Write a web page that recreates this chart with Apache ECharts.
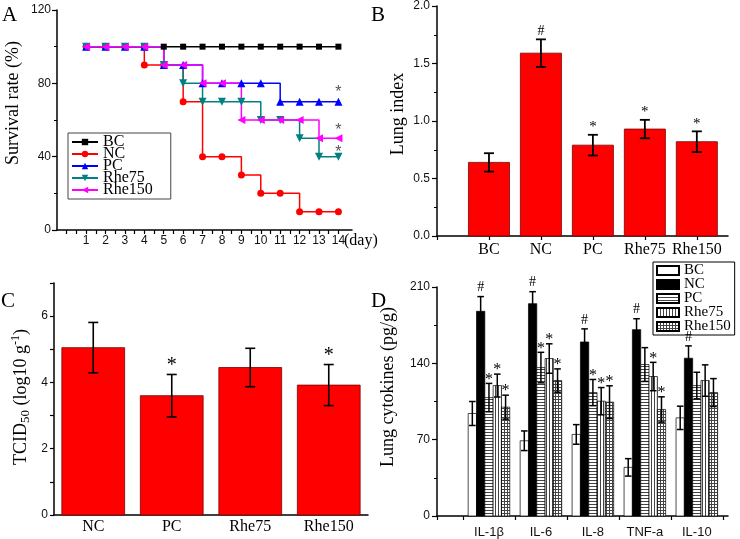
<!DOCTYPE html>
<html><head><meta charset="utf-8">
<script src="https://cdn.jsdelivr.net/npm/echarts@6/dist/echarts.min.js"></script>
<style>html,body{margin:0;padding:0;background:#fff}#c{width:740px;height:539px}</style>
</head><body><div id="c"></div>
<script>
// ---------- Panel A: survival ----------
const days = [1,2,3,4,5,6,7,8,9,10,11,12,13,14];
const survBC     = [100,100,100,100,100,100,100,100,100,100,100,100,100,100];
const survNC     = [100,100,100,90,90,70,40,40,30,20,20,10,10,10];
const survPC     = [100,100,100,100,90,90,80,80,80,80,70,70,70,70];
const survRhe75  = [100,100,100,100,90,80,70,70,70,60,60,50,40,40];
const survRhe150 = [100,100,100,100,90,90,80,80,60,60,60,60,50,50];
// significance stars drawn at day 14 (y position)
const survStarY = [77, 56.5, 44.5];

// ---------- Panel B: lung index ----------
const groupsB = ['BC','NC','PC','Rhe75','Rhe150'];
const lungIndex    = [0.64,1.59,0.79,0.93,0.82];
const lungIndexErr = [0.08,0.12,0.09,0.08,0.09];
const lungIndexMark = ['','#','*','*','*'];

// ---------- Panel C: TCID50 ----------
const groupsC = ['NC','PC','Rhe75','Rhe150'];
const tcid    = [5.05,3.60,4.45,3.92];
const tcidErr = [0.76,0.64,0.58,0.62];
const tcidMark = ['','*','','*'];

// ---------- Panel D: cytokines ----------
const cytokines = ['IL-1β','IL-6','IL-8','TNF-a','IL-10'];
const cytoGroups = ['BC','NC','PC','Rhe75','Rhe150'];
const cytoBC      = [94.0,69.0,74.8,44.6,90.0];
const cytoBCErr   = [11.0,9.0,9.0,8.0,10.7];
const cytoNC      = [187.7,194.7,159.6,170.9,144.7];
const cytoNCErr   = [13.5,11.0,12.0,10.0,11.3];
const cytoPC      = [108.6,136.1,113.2,138.9,119.6];
const cytoPCErr   = [13.0,14.0,12.0,15.5,12.2];
const cytoRhe75   = [119.6,144.4,105.3,127.9,124.2];
const cytoRhe75Err= [10.5,13.5,12.5,13.0,14.4];
const cytoRhe150  = [99.8,124.2,104.4,97.7,113.2];
const cytoRhe150Err=[11.0,10.7,15.0,11.6,12.8];
const cytoBCMark     = ['','','','',''];
const cytoNCMark     = ['#','#','#','#','#'];
const cytoPCMark     = ['*','*','*','',''];
const cytoRhe75Mark  = ['*','*','*','*',''];
const cytoRhe150Mark = ['*','*','*','*',''];

const SERIF = 'Liberation Serif';
const SANS = 'Liberation Sans';

function pattern(type){
  const c = document.createElement('canvas'); c.width = 3; c.height = 3;
  const g = c.getContext('2d');
  g.fillStyle = '#fff'; g.fillRect(0,0,3,3);
  g.fillStyle = '#444';
  if (type === 'h' || type === 'g') g.fillRect(0,0,3,1);
  if (type === 'v' || type === 'g') g.fillRect(0,0,1,3);
  return {image: c, repeat: 'repeat'};
}

function barRender(o){
  return function(params, api){
    const i = params.dataIndex;
    const x = api.value(0), v = api.value(1), e = api.value(2);
    const xc = x + (o.offset || 0);
    const p0 = api.coord([xc, 0]), p1 = api.coord([xc, v]);
    const w = o.cat ? api.size([1, 0])[0] * o.width : api.size([o.width, 0])[0];
    const pt = api.coord([xc, v + e]), pb = api.coord([xc, v - e]);
    const cx = p1[0], ch = o.cap;
    const kids = [
      {type:'rect', shape:{x:cx - w/2, y:p1[1], width:w, height:p0[1]-p1[1]},
       style:{fill:o.fill, stroke:o.stroke, lineWidth:o.bw}},
      {type:'line', shape:{x1:cx,y1:pt[1],x2:cx,y2:pb[1]}, style:{stroke:'#000', lineWidth:o.ew}},
      {type:'line', shape:{x1:cx-ch,y1:pt[1],x2:cx+ch,y2:pt[1]}, style:{stroke:'#000', lineWidth:o.ew}},
      {type:'line', shape:{x1:cx-ch,y1:pb[1],x2:cx+ch,y2:pb[1]}, style:{stroke:'#000', lineWidth:o.ew}}
    ];
    const m = o.marks[i];
    if (m) {
      kids.push({type:'text', style:{text:m, x:cx, y:pt[1] - (m === '#' ? o.gapHash : o.gapStar),
        align:'center', verticalAlign:'bottom', textAlign:'center', textVerticalAlign:'bottom',
        font: (m === '#' ? o.fontHash : o.fontStar), fill:'#000'}});
    }
    return {type:'group', children:kids};
  };
}

const tickA = []; for (let t = 0; t <= 14.001; t += 0.5) tickA.push(t);
const tickD = []; for (let t = 0.5; t <= 5.5; t += 1) tickD.push(t);
const posB = groupsB.map((g,i)=>i+1);
const posD = cytokines.map((g,i)=>i+1);

const axisLineStyle = {show:true, onZero:false, lineStyle:{color:'#000', width:1.5}};
const tickStyle = {lineStyle:{color:'#000', width:1.2}};

const survSeries = [
  {name:'BC', data:survBC, color:'#000000', symbol:'rect', size:6},
  {name:'NC', data:survNC, color:'#ff0000', symbol:'circle', size:7},
  {name:'PC', data:survPC, color:'#0000ff', symbol:'triangle', size:8},
  {name:'Rhe75', data:survRhe75, color:'#008080', symbol:'path://M0,0L10,0L5,9Z', size:8},
  {name:'Rhe150', data:survRhe150, color:'#ff00ff', symbol:'path://M10,0L10,10L1,5Z', size:8}
];

const cytoSets = [
  {name:'BC', v:cytoBC, e:cytoBCErr, m:cytoBCMark, fill:'#ffffff'},
  {name:'NC', v:cytoNC, e:cytoNCErr, m:cytoNCMark, fill:'#000000'},
  {name:'PC', v:cytoPC, e:cytoPCErr, m:cytoPCMark, fill:pattern('h')},
  {name:'Rhe75', v:cytoRhe75, e:cytoRhe75Err, m:cytoRhe75Mark, fill:pattern('v')},
  {name:'Rhe150', v:cytoRhe150, e:cytoRhe150Err, m:cytoRhe150Mark, fill:pattern('g')}
];
const dBarW = 0.16;

const series = [];
survSeries.forEach(s => {
  series.push({
    type:'line', name:s.name, xAxisIndex:0, yAxisIndex:0, step:'end',
    data: days.map((d,i)=>[d, s.data[i]]),
    symbol:s.symbol, symbolSize:s.size, color:s.color,
    lineStyle:{color:s.color, width:1.5}, itemStyle:{color:s.color},
    animation:false, z:3
  });
});
series.push({
  type:'custom', name:'survStars', xAxisIndex:0, yAxisIndex:0,
  data: survStarY.map(y => [days[days.length-1], y]),
  renderItem: function(params, api){
    const p = api.coord([api.value(0), api.value(1)]);
    return {type:'text', style:{text:'*', x:p[0], y:p[1]+4, align:'center', verticalAlign:'middle',
      textAlign:'center', textVerticalAlign:'middle', font:'16px '+SANS, fill:'#555'}};
  }, animation:false, z:5
});
series.push({
  type:'custom', name:'lungIndex', xAxisIndex:1, yAxisIndex:1,
  data: groupsB.map((g,i)=>[posB[i], lungIndex[i], lungIndexErr[i]]),
  renderItem: barRender({width:0.79, fill:'#ff0000', stroke:'#7a0000', bw:0.8, ew:1.8, cap:5,
    marks:lungIndexMark, gapHash:1, gapStar:0, fontHash:'14px '+SERIF, fontStar:'15px '+SERIF}),
  animation:false
});
series.push({
  type:'custom', name:'tcid', xAxisIndex:2, yAxisIndex:2,
  data: groupsC.map((g,i)=>[i, tcid[i], tcidErr[i]]),
  renderItem: barRender({cat:true, width:0.8, fill:'#ff0000', stroke:'#7a0000', bw:0.8, ew:1.6, cap:5,
    marks:tcidMark, gapHash:1, gapStar:-1, fontHash:'18px '+SERIF, fontStar:'20px '+SERIF}),
  animation:false
});
cytoSets.forEach((s,k) => {
  series.push({
    type:'custom', name:'D_'+s.name, xAxisIndex:3, yAxisIndex:3,
    data: cytokines.map((c,i)=>[posD[i], s.v[i], s.e[i]]),
    itemStyle:{color:s.fill, borderColor:'#000', borderWidth:0.8},
    renderItem: barRender({width:dBarW, offset:(k-2)*dBarW, fill:s.fill, stroke:'#000', bw:0.7, ew:1.5, cap:3.3,
      marks:s.m, gapHash:2, gapStar:-4, fontHash:'14px '+SERIF, fontStar:'16px '+SERIF}),
    animation:false
  });
});

function vText(text, x, y, extra){
  return Object.assign({type:'text', x:x, y:y, rotation:Math.PI/2,
    style:{text:text, font:'18px '+SERIF, fill:'#000', align:'center', verticalAlign:'middle',
      textAlign:'center', textVerticalAlign:'middle'}}, extra || {});
}
function label(t, x, y){
  return {type:'text', x:x, y:y, style:{text:t, font:'21px '+SERIF, fill:'#000', align:'left', verticalAlign:'top', textAlign:'left', textVerticalAlign:'top'}};
}

const tcidTitle = vText('', 21, 397);
tcidTitle.style = {
  text:'{a|TCID}{s|50}{a| (log10 g}{p|-1}{a|)}',
  rich:{
    a:{font:'18px '+SERIF, fill:'#000', lineHeight:22, verticalAlign:'middle'},
    s:{font:'13px '+SERIF, fill:'#000', lineHeight:13, verticalAlign:'bottom'},
    p:{font:'12px '+SERIF, fill:'#000', lineHeight:12, verticalAlign:'top'}
  },
  align:'center', verticalAlign:'middle', textAlign:'center', textVerticalAlign:'middle'
};

const option = {
  backgroundColor:'#fff',
  animation:false,
  grid:[
    {left:57, top:10, width:295, height:220},
    {left:437, top:5, width:291, height:231},
    {left:54, top:283, width:314, height:232},
    {left:437, top:287, width:291, height:229}
  ],
  xAxis:[
    {gridIndex:0, type:'value', min:-0.5, max:14.7, axisLine:axisLineStyle, splitLine:{show:false},
     axisTick:Object.assign({customValues:tickA, length:4}, tickStyle),
     axisLabel:{customValues:days, fontFamily:SANS, fontSize:12, color:'#111', margin:5}},
    {gridIndex:1, type:'value', min:0, max:5.6, axisLine:axisLineStyle, splitLine:{show:false},
     axisTick:Object.assign({customValues:[0].concat(posB), length:4}, tickStyle),
     axisLabel:{customValues:posB, formatter:v=>groupsB[Math.round(v)-1] || '', fontFamily:SERIF, fontSize:16, color:'#000', margin:6}},
    {gridIndex:2, type:'category', data:groupsC, boundaryGap:true, axisLine:axisLineStyle,
     axisTick:Object.assign({alignWithLabel:true, length:4}, tickStyle),
     axisLabel:{fontFamily:SERIF, fontSize:16, color:'#000', margin:4}},
    {gridIndex:3, type:'value', min:0, max:5.6, axisLine:axisLineStyle, splitLine:{show:false},
     axisTick:Object.assign({customValues:[0].concat(tickD), length:4}, tickStyle),
     axisLabel:{customValues:posD, formatter:v=>cytokines[Math.round(v)-1] || '', fontFamily:SANS, fontSize:13, color:'#111', margin:10}}
  ],
  yAxis:[
    {gridIndex:0, type:'value', min:0, max:120, interval:40, axisLine:axisLineStyle, splitLine:{show:false},
     axisTick:Object.assign({show:true, length:5}, tickStyle), minorTick:{show:true, splitNumber:2, length:3, lineStyle:{color:'#000'}},
     axisLabel:{fontFamily:SANS, fontSize:12, color:'#111', margin:6}},
    {gridIndex:1, type:'value', min:0, max:2, interval:0.5, axisLine:axisLineStyle, splitLine:{show:false},
     axisTick:Object.assign({show:true, length:5}, tickStyle), minorTick:{show:true, splitNumber:2, length:3, lineStyle:{color:'#000'}},
     axisLabel:{formatter:v=>v.toFixed(1), fontFamily:SANS, fontSize:12, color:'#111', margin:7}},
    {gridIndex:2, type:'value', min:0, max:7, interval:1, axisLine:axisLineStyle, splitLine:{show:false},
     axisTick:Object.assign({show:true, length:4}, tickStyle),
     axisLabel:{formatter:v=>(v % 2 === 0 ? String(v) : ''), fontFamily:SANS, fontSize:12, color:'#111', margin:6}},
    {gridIndex:3, type:'value', min:0, max:210, interval:70, axisLine:axisLineStyle, splitLine:{show:false},
     axisTick:Object.assign({show:true, length:5}, tickStyle), minorTick:{show:true, splitNumber:2, length:3, lineStyle:{color:'#000'}},
     axisLabel:{fontFamily:SANS, fontSize:12, color:'#111', margin:7}}
  ],
  legend:[
    {data:survSeries.map(s=>s.name), left:68, top:133, orient:'vertical', itemWidth:26, itemHeight:8,
     itemGap:-4, padding:[1,18,1,3], borderColor:'#444', borderWidth:1, selectedMode:false,
     textStyle:{fontFamily:SERIF, fontSize:16, color:'#000'}},
    {data:cytoSets.map(s=>'D_'+s.name), formatter:n=>n.replace('D_',''), left:653, top:262, orient:'vertical',
     itemWidth:22, itemHeight:9, itemGap:-1, padding:[1,4,1,3], borderColor:'#000', borderWidth:1, selectedMode:false,
     icon:'rect', textStyle:{fontFamily:SERIF, fontSize:15, color:'#000'}}
  ],
  graphic:[
    label('A', 2, 5), label('B', 371, 5), label('C', 1, 291), label('D', 371, 291),
    vText('Survival rate (%)', 13, 103),
    vText('Lung index', 398, 114),
    tcidTitle,
    vText('Lung cytokines (pg/g)', 388, 387),
    {type:'text', x:344, y:241, style:{text:'(day)', font:'16px '+SERIF, fill:'#000', align:'left', verticalAlign:'middle', textAlign:'left', textVerticalAlign:'middle'}}
  ],
  series:series
};

const chart = echarts.init(document.getElementById('c'), null, {renderer:'canvas'});
chart.setOption(option);
</script>
</body></html>
